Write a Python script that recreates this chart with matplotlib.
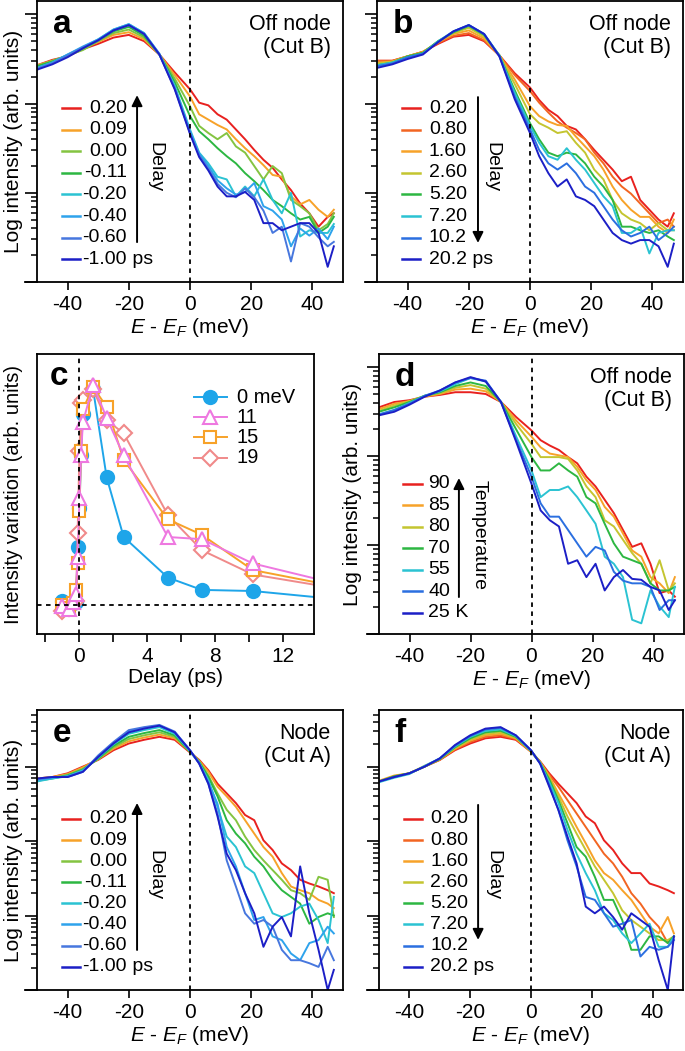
import matplotlib
matplotlib.use('Agg')
import matplotlib.pyplot as plt
import numpy as np
from matplotlib.ticker import NullFormatter, FixedLocator

plt.rcParams['font.family'] = ['Liberation Sans', 'DejaVu Sans']
plt.rcParams['mathtext.fontset'] = 'custom'
plt.rcParams['mathtext.rm'] = 'Liberation Sans'
plt.rcParams['mathtext.it'] = 'Liberation Sans:italic'
plt.rcParams['axes.linewidth'] = 1.3
plt.rcParams['axes.unicode_minus'] = False

# energy grid (meV) shared by the spectra; values are log10 intensity (arb.)
energy = [-50, -45, -40, -35, -30, -25, -20, -15, -10, -5, 0,
          3, 6, 9, 12, 15, 18, 21, 24, 27, 30, 33, 36, 39, 42, 45, 47]

# panel a: off node, delay < ~0.2 ps (rows = energy, cols = curves)
a_labels = ['0.20', '0.09', '0.00', '-0.11', '-0.20', '-0.40', '-0.60', '-1.00']
a_rows = [
    [2.43, 2.43, 2.42, 2.42, 2.40, 2.40, 2.39, 2.38],
    [2.49, 2.48, 2.48, 2.47, 2.46, 2.46, 2.45, 2.44],
    [2.53, 2.53, 2.54, 2.54, 2.55, 2.55, 2.54, 2.52],
    [2.61, 2.62, 2.60, 2.62, 2.63, 2.64, 2.63, 2.62],
    [2.67, 2.69, 2.70, 2.71, 2.72, 2.72, 2.71, 2.71],
    [2.74, 2.77, 2.79, 2.81, 2.83, 2.83, 2.82, 2.82],
    [2.77, 2.80, 2.83, 2.86, 2.89, 2.89, 2.88, 2.88],
    [2.70, 2.72, 2.74, 2.76, 2.79, 2.79, 2.78, 2.78],
    [2.55, 2.55, 2.55, 2.55, 2.55, 2.56, 2.55, 2.55],
    [2.35, 2.32, 2.28, 2.24, 2.20, 2.18, 2.17, 2.16],
    [2.16, 2.08, 1.97, 1.86, 1.71, 1.69, 1.67, 1.66],
    [2.01, 1.88, 1.75, 1.69, 1.45, 1.44, 1.42, 1.40],
    [1.98, 1.82, 1.67, 1.60, 1.33, 1.30, 1.27, 1.25],
    [1.88, 1.76, 1.60, 1.50, 1.18, 1.14, 1.10, 1.07],
    [1.82, 1.71, 1.67, 1.41, 1.15, 1.05, 1.00, 0.96],
    [1.71, 1.60, 1.52, 1.33, 0.96, 0.98, 0.95, 0.96],
    [1.60, 1.50, 1.45, 1.22, 1.07, 1.01, 1.05, 1.01],
    [1.48, 1.41, 1.30, 1.13, 0.96, 1.11, 0.95, 0.92],
    [1.37, 1.31, 1.15, 1.03, 1.15, 0.85, 0.80, 0.66],
    [1.28, 1.20, 1.30, 0.92, 0.92, 0.80, 0.55, 0.66],
    [1.15, 1.18, 1.22, 0.85, 0.77, 0.70, 0.62, 0.58],
    [1.03, 0.96, 0.92, 0.77, 1.00, 0.40, 0.23, 0.62],
    [0.88, 0.87, 0.85, 0.70, 0.51, 0.60, 0.66, 0.66],
    [0.77, 0.92, 0.77, 0.73, 0.58, 0.52, 0.62, 0.66],
    [0.62, 0.81, 0.58, 0.55, 0.55, 0.60, 0.50, 0.55],
    [0.73, 0.73, 0.65, 0.62, 0.55, 0.48, 0.40, 0.17],
    [0.77, 0.81, 0.77, 0.73, 0.65, 0.62, 0.45, 0.40],
]

# panel b: off node, delay >= 0.2 ps
b_labels = ['0.20', '0.80', '1.60', '2.60', '5.20', '7.20', '10.2', '20.2']
b_rows = [
    [2.48, 2.48, 2.46, 2.45, 2.43, 2.43, 2.42, 2.40],
    [2.48, 2.48, 2.47, 2.47, 2.46, 2.46, 2.45, 2.44],
    [2.53, 2.53, 2.53, 2.53, 2.53, 2.52, 2.52, 2.50],
    [2.58, 2.58, 2.58, 2.57, 2.57, 2.56, 2.56, 2.55],
    [2.67, 2.68, 2.69, 2.70, 2.70, 2.70, 2.69, 2.69],
    [2.75, 2.76, 2.78, 2.79, 2.80, 2.81, 2.81, 2.81],
    [2.77, 2.79, 2.82, 2.85, 2.87, 2.88, 2.88, 2.88],
    [2.70, 2.71, 2.73, 2.75, 2.77, 2.78, 2.78, 2.78],
    [2.54, 2.54, 2.54, 2.54, 2.54, 2.54, 2.53, 2.53],
    [2.34, 2.32, 2.27, 2.22, 2.15, 2.12, 2.08, 2.05],
    [2.18, 2.14, 1.97, 1.88, 1.78, 1.75, 1.71, 1.67],
    [2.04, 2.01, 1.86, 1.78, 1.60, 1.56, 1.48, 1.41],
    [1.93, 1.90, 1.80, 1.73, 1.45, 1.41, 1.33, 1.22],
    [1.86, 1.80, 1.76, 1.67, 1.41, 1.37, 1.26, 1.07],
    [1.75, 1.73, 1.75, 1.69, 1.45, 1.50, 1.33, 1.15],
    [1.71, 1.67, 1.63, 1.56, 1.43, 1.37, 1.22, 0.96],
    [1.60, 1.60, 1.52, 1.45, 1.33, 1.26, 1.07, 0.92],
    [1.48, 1.45, 1.41, 1.26, 1.18, 1.11, 1.00, 0.85],
    [1.37, 1.33, 1.26, 1.15, 1.07, 0.96, 0.85, 0.70],
    [1.26, 1.18, 1.07, 0.92, 0.92, 0.85, 0.70, 0.55],
    [1.13, 1.07, 0.92, 0.77, 0.62, 0.55, 0.58, 0.47],
    [1.18, 0.99, 0.81, 0.70, 0.62, 0.55, 0.51, 0.43],
    [0.92, 0.88, 0.73, 0.66, 0.58, 0.62, 0.55, 0.47],
    [0.81, 0.77, 0.73, 0.58, 0.55, 0.32, 0.62, 0.47],
    [0.70, 0.66, 0.62, 0.66, 0.58, 0.55, 0.47, 0.40],
    [0.62, 0.70, 0.55, 0.58, 0.51, 0.58, 0.55, 0.17],
    [0.77, 0.62, 0.70, 0.58, 0.47, 0.58, 0.62, 0.43],
]

# panel d: off node, temperature dependence
d_labels = ['90', '85', '80', '70', '55', '40', '25']
d_rows = [
    [2.55, 2.53, 2.51, 2.50, 2.47, 2.47, 2.46],
    [2.61, 2.59, 2.57, 2.55, 2.52, 2.52, 2.50],
    [2.63, 2.62, 2.62, 2.61, 2.60, 2.59, 2.58],
    [2.67, 2.67, 2.68, 2.68, 2.68, 2.68, 2.67],
    [2.69, 2.70, 2.71, 2.72, 2.73, 2.74, 2.74],
    [2.72, 2.75, 2.77, 2.79, 2.81, 2.83, 2.83],
    [2.72, 2.76, 2.80, 2.83, 2.88, 2.88, 2.89],
    [2.70, 2.73, 2.76, 2.79, 2.84, 2.85, 2.84],
    [2.61, 2.61, 2.61, 2.61, 2.61, 2.61, 2.61],
    [2.44, 2.40, 2.36, 2.30, 2.22, 2.18, 2.16],
    [2.29, 2.22, 2.14, 1.99, 1.84, 1.77, 1.69],
    [2.18, 2.10, 1.99, 1.84, 1.54, 1.47, 1.39],
    [2.12, 2.03, 1.99, 1.84, 1.62, 1.32, 1.28],
    [2.07, 2.01, 1.99, 1.92, 1.62, 1.32, 1.21],
    [1.99, 1.99, 1.97, 1.84, 1.66, 1.17, 0.79],
    [1.92, 1.88, 1.84, 1.77, 1.54, 1.02, 0.83],
    [1.77, 1.73, 1.66, 1.54, 1.39, 0.87, 0.64],
    [1.66, 1.62, 1.54, 1.47, 1.24, 0.98, 0.79],
    [1.51, 1.43, 1.28, 1.24, 0.87, 0.94, 0.49],
    [1.36, 1.32, 1.21, 1.02, 0.79, 0.70, 0.64],
    [1.17, 1.13, 1.06, 0.87, 0.64, 0.60, 0.72],
    [0.98, 0.94, 0.91, 0.83, 0.16, 0.57, 0.62],
    [1.02, 0.87, 0.79, 0.79, 0.12, 0.57, 0.61],
    [0.79, 0.64, 0.57, 0.57, 0.49, 0.53, 0.53],
    [0.46, 0.57, 0.83, 0.49, 0.31, 0.27, 0.49],
    [0.49, 0.46, 0.49, 0.49, 0.19, 0.38, 0.27],
    [0.42, 0.64, 0.57, 0.53, 0.53, 0.38, 0.38],
]

# panel e: node, delay < ~0.2 ps
e_labels = a_labels
e_rows = [
    [2.84, 2.84, 2.82, 2.81, 2.80, 2.82, 2.83, 2.84],
    [2.86, 2.86, 2.85, 2.84, 2.84, 2.85, 2.86, 2.86],
    [2.91, 2.90, 2.89, 2.88, 2.87, 2.87, 2.86, 2.86],
    [3.00, 2.99, 2.97, 2.96, 2.95, 2.94, 2.93, 2.93],
    [3.09, 3.10, 3.10, 3.11, 3.12, 3.14, 3.15, 3.13],
    [3.22, 3.24, 3.26, 3.28, 3.30, 3.32, 3.33, 3.31],
    [3.31, 3.34, 3.37, 3.40, 3.44, 3.47, 3.49, 3.46],
    [3.36, 3.39, 3.42, 3.45, 3.49, 3.52, 3.53, 3.51],
    [3.40, 3.43, 3.46, 3.49, 3.53, 3.55, 3.56, 3.55],
    [3.36, 3.38, 3.40, 3.42, 3.44, 3.46, 3.47, 3.46],
    [3.19, 3.20, 3.20, 3.20, 3.21, 3.21, 3.22, 3.22],
    [3.09, 3.08, 3.07, 3.06, 3.05, 3.05, 3.04, 3.04],
    [2.95, 2.93, 2.88, 2.86, 2.82, 2.79, 2.77, 2.77],
    [2.77, 2.73, 2.64, 2.60, 2.46, 2.50, 2.37, 2.33],
    [2.64, 2.60, 2.42, 2.28, 2.06, 1.92, 1.74, 1.83],
    [2.51, 2.46, 2.28, 2.10, 1.92, 1.66, 1.39, 1.61],
    [2.35, 2.28, 2.06, 1.97, 1.66, 1.30, 1.03, 1.30],
    [2.28, 2.10, 1.88, 1.79, 1.57, 0.94, 0.89, 1.03],
    [2.01, 1.92, 1.74, 1.66, 1.30, 0.98, 0.94, 0.58],
    [1.88, 1.79, 1.61, 1.48, 1.03, 0.72, 0.85, 0.85],
    [1.70, 1.57, 1.48, 1.34, 0.98, 0.67, 0.54, 0.98],
    [1.61, 1.39, 1.34, 1.25, 1.03, 0.49, 0.40, 0.72],
    [1.48, 1.34, 1.30, 1.16, 1.12, 0.40, 0.40, 1.66],
    [1.43, 1.30, 1.21, 0.89, 1.16, 0.63, 0.36, 1.03],
    [1.39, 1.21, 1.52, 0.98, 0.94, 0.67, 0.31, 0.54],
    [1.34, 1.16, 1.48, 1.03, 0.63, 0.85, 0.58, 0.00],
    [1.30, 1.10, 0.98, 1.00, 1.25, 0.76, 0.40, 0.27],
]

# panel f: node, delay >= 0.2 ps
f_labels = b_labels
f_rows = [
    [2.80, 2.80, 2.81, 2.80, 2.80, 2.79, 2.80, 2.80],
    [2.86, 2.87, 2.88, 2.86, 2.87, 2.85, 2.86, 2.86],
    [2.91, 2.91, 2.91, 2.91, 2.91, 2.90, 2.91, 2.91],
    [3.00, 3.00, 3.01, 3.00, 3.00, 3.01, 3.00, 3.00],
    [3.09, 3.09, 3.10, 3.10, 3.10, 3.11, 3.11, 3.11],
    [3.22, 3.23, 3.24, 3.25, 3.26, 3.27, 3.28, 3.29],
    [3.31, 3.33, 3.35, 3.36, 3.38, 3.40, 3.41, 3.42],
    [3.38, 3.40, 3.42, 3.44, 3.46, 3.48, 3.50, 3.51],
    [3.40, 3.42, 3.44, 3.46, 3.48, 3.50, 3.52, 3.53],
    [3.36, 3.37, 3.38, 3.39, 3.40, 3.41, 3.42, 3.42],
    [3.20, 3.20, 3.20, 3.21, 3.21, 3.21, 3.22, 3.22],
    [3.07, 3.06, 3.06, 3.06, 3.05, 3.05, 3.04, 3.04],
    [2.91, 2.89, 2.87, 2.85, 2.83, 2.79, 2.75, 2.73],
    [2.77, 2.73, 2.64, 2.60, 2.55, 2.51, 2.42, 2.42],
    [2.64, 2.55, 2.42, 2.33, 2.24, 2.15, 2.01, 2.06],
    [2.51, 2.37, 2.19, 2.10, 1.92, 1.83, 1.66, 1.70],
    [2.33, 2.19, 1.97, 1.88, 1.79, 1.57, 1.25, 1.12],
    [2.24, 2.01, 1.74, 1.66, 1.52, 1.34, 1.21, 1.03],
    [2.01, 1.83, 1.57, 1.48, 1.21, 1.03, 1.03, 1.12],
    [1.88, 1.70, 1.48, 1.30, 1.21, 0.94, 0.85, 0.98],
    [1.70, 1.52, 1.34, 1.07, 0.94, 0.76, 0.89, 0.81],
    [1.57, 1.30, 1.21, 0.94, 0.54, 0.63, 0.94, 1.03],
    [1.57, 1.16, 1.03, 0.85, 0.54, 0.76, 0.45, 0.94],
    [1.43, 0.98, 0.85, 0.76, 0.72, 0.89, 0.58, 0.85],
    [1.39, 0.85, 0.76, 0.67, 0.72, 0.58, 0.54, 0.40],
    [1.34, 0.63, 0.98, 0.67, 0.63, 0.58, 0.58, 0.00],
    [1.30, 0.72, 0.76, 0.72, 0.72, 0.72, 0.67, 0.72],
]

# panel c: intensity variation vs delay
delay = [-1.00, -0.60, -0.40, -0.20, -0.11, 0.00, 0.09, 0.20,
         0.80, 1.60, 2.60, 5.20, 7.20, 10.2, 20.2]
var_0 = [0.02, 0.0, 0.01, 0.015, 0.265, 0.44, 0.68, 0.87,
         0.98, 0.58, 0.31, 0.126, 0.07, 0.065, -0.01]
var_11 = [-0.005, -0.015, 0.015, 0.053, 0.22, 0.485, 0.68, 0.83,
          1.0, 0.85, 0.68, 0.31, 0.30, 0.19, 0.003]
var_15 = [0.0, -0.01, 0.01, 0.07, 0.19, 0.43, 0.70, 0.89,
          0.99, 0.90, 0.66, 0.39, 0.32, 0.16, 0.01]
var_19 = [-0.027, -0.01, 0.008, 0.02, 0.33, 0.70, 0.92, 0.93,
          0.98, 0.84, 0.78, 0.41, 0.25, 0.14, 0.012]
c_labels = ['0 meV', '11', '15', '19']

cols_a = ['#E8211F', '#F7A229', '#84C441', '#2DB742', '#2BC3D2', '#2EA3EC', '#4777DE', '#1C1FC6']
cols_b = ['#E8211F', '#F26522', '#F7A229', '#C4C530', '#2DB742', '#2BC3D2', '#2B6FE0', '#1C1FC6']
cols_d = ['#E8211F', '#F7A229', '#C4C530', '#2DB742', '#2BC3D2', '#2B6FE0', '#1C1FC6']

W, H = 685, 1051
fig = plt.figure(figsize=(W / 100, H / 100), dpi=100)


def box(x0, y0, x1, y1):
    return [x0 / W, 1 - y1 / H, (x1 - x0) / W, (y1 - y0) / H]


def spectra(ax, rows, labels, unit, colors, ytop, letter, place, up, word,
            leg_y0, leg_dy, leg_x0, leg_x1, leg_tx, arr_x, arr_y0, arr_y1,
            word_x, word_y, ylab_x=None):
    data = np.array(rows).T
    for vals, c in zip(data, colors):
        ax.plot(energy, 10 ** vals, color=c, lw=1.4)
    ax.set_yscale('log')
    ax.set_xlim(-50, 50)
    ax.set_ylim(1, 10 ** ytop)
    ax.axvline(0, color='k', lw=1.3, ls=(0, (2.5, 2.5)))
    ndec = int(np.ceil(ytop))
    ax.yaxis.set_major_locator(FixedLocator([10.0 ** k for k in range(ndec + 1)]))
    ax.yaxis.set_minor_locator(FixedLocator([m * 10.0 ** k for k in range(ndec + 1)
                                             for m in range(2, 10)]))
    ax.yaxis.set_major_formatter(NullFormatter())
    ax.yaxis.set_minor_formatter(NullFormatter())
    ax.set_ylim(1, 10 ** ytop)
    ax.set_xticks([-40, -20, 0, 20, 40])
    ax.tick_params(axis='x', direction='out', length=6, width=1.2, labelsize=15, pad=3)
    ax.yaxis.set_tick_params(which='major', direction='out', length=8.5, width=1.2, left=True)
    ax.yaxis.set_tick_params(which='minor', direction='out', length=4, width=1.1, left=True)
    ax.plot([-0.04, 0], [0, 0], transform=ax.transAxes, clip_on=False, color='k', lw=1.3)
    ax.set_xlabel(r'$E$ - $E_F$ (meV)', fontsize=15, labelpad=2)
    if ylab_x is not None:
        ax.set_ylabel('Log intensity (arb. units)', fontsize=15)
        ax.yaxis.set_label_coords(ylab_x, 0.5)
    ax.text(0.052, 1 - 32 / 281, letter, transform=ax.transAxes, fontsize=24,
            fontweight='bold', ha='left', va='baseline')
    ax.text(0.96, 0.955, place, transform=ax.transAxes, fontsize=15.5,
            ha='right', va='top', linespacing=1.15)
    # hand-made legend
    for i, (lab, c) in enumerate(zip(labels, colors)):
        yy = leg_y0 - i * leg_dy
        ax.plot([leg_x0, leg_x1], [yy, yy], transform=ax.transAxes, color=c, lw=1.8)
        ax.text(leg_tx, yy, lab, transform=ax.transAxes, fontsize=14,
                ha='right', va='center')
        if i == len(labels) - 1:
            ax.text(leg_tx, yy, ' ' + unit, transform=ax.transAxes, fontsize=14,
                    ha='left', va='center')
    if up:
        start, end = arr_y0, arr_y1
    else:
        start, end = arr_y1, arr_y0
    ax.annotate('', xy=(arr_x, end), xytext=(arr_x, start), xycoords='axes fraction',
                arrowprops=dict(arrowstyle='-|>', color='k', lw=1.4, mutation_scale=16,
                                shrinkA=0, shrinkB=0))
    ax.text(word_x, word_y, word, transform=ax.transAxes, fontsize=14,
            rotation=270, ha='center', va='center')


ax_a = fig.add_axes(box(37, 1, 343, 282))
spectra(ax_a, a_rows, a_labels, 'ps', cols_a, 3.15, 'a', 'Off node\n(Cut B)', True, 'Delay',
        0.619, 0.0769, 0.082, 0.141, 0.294, 0.327, 0.142, 0.665, 0.386, 0.409, ylab_x=-0.046)

ax_b = fig.add_axes(box(377, 1, 683, 282))
spectra(ax_b, b_rows, b_labels, 'ps', cols_b, 3.15, 'b', 'Off node\n(Cut B)', False, 'Delay',
        0.619, 0.0769, 0.082, 0.141, 0.294, 0.33, 0.139, 0.658, 0.376, 0.409)

ax_d = fig.add_axes(box(379, 354, 684, 634))
spectra(ax_d, d_rows, d_labels, 'K', cols_d, 3.15, 'd', 'Off node\n(Cut B)', True, 'Temperature',
        0.536, 0.0768, 0.079, 0.141, 0.233, 0.262, 0.132, 0.557, 0.328, 0.354, ylab_x=-0.056)

ax_e = fig.add_axes(box(37, 710, 343, 990))
spectra(ax_e, e_rows, e_labels, 'ps', cols_a, 3.76, 'e', 'Node\n(Cut A)', True, 'Delay',
        0.611, 0.0754, 0.082, 0.141, 0.294, 0.327, 0.143, 0.668, 0.386, 0.41, ylab_x=-0.046)

ax_f = fig.add_axes(box(379, 710, 683, 990))
spectra(ax_f, f_rows, f_labels, 'ps', cols_b, 3.76, 'f', 'Node\n(Cut A)', False, 'Delay',
        0.611, 0.0754, 0.082, 0.141, 0.294, 0.326, 0.179, 0.661, 0.375, 0.41)

# panel c
ax_c = fig.add_axes(box(37, 354, 314, 634))
c_series = [var_0, var_11, var_15, var_19]
c_colors = ['#1EA5E9', '#EE78E0', '#F7A229', '#F08A8A']
c_markers = ['o', '^', 's', 'D']
c_fill = ['#1EA5E9', 'white', 'white', 'white']
c_ms = [9.5, 10.5, 8.5, 8]
for k in [0, 3, 2, 1]:
    ax_c.plot(delay, c_series[k], color=c_colors[k], lw=1.4, marker=c_markers[k],
              ms=c_ms[k], mfc=c_fill[k], mec=c_colors[k], mew=1.5)
ax_c.set_xlim(-2.5, 13.8)
ax_c.set_ylim(-0.13, 1.14)
ax_c.axvline(0, color='k', lw=1.3, ls=(0, (2.5, 2.5)))
ax_c.axhline(0, color='k', lw=1.3, ls=(0, (2.5, 2.5)))
ax_c.xaxis.set_major_locator(FixedLocator([-2, 0, 2, 4, 6, 8, 10, 12]))
ax_c.set_xticklabels(['', '0', '', '4', '', '8', '', '12'])
ax_c.tick_params(axis='x', direction='out', length=6, width=1.2, labelsize=15, pad=3)
ax_c.tick_params(axis='y', left=False, labelleft=False)
ax_c.set_xlabel('Delay (ps)', fontsize=15, labelpad=2)
ax_c.set_ylabel('Intensity variation (arb. units)', fontsize=14.5)
ax_c.yaxis.set_label_coords(-0.052, 0.5)
ax_c.text(0.047, 1 - 31 / 280, 'c', transform=ax_c.transAxes, fontsize=24,
          fontweight='bold', ha='left', va='baseline')
for i in range(4):
    yy = 0.846 - i * 0.072
    ax_c.plot([0.567, 0.686], [yy, yy], transform=ax_c.transAxes, color=c_colors[i], lw=1.4)
    ax_c.plot([0.626], [yy], transform=ax_c.transAxes, color=c_colors[i], marker=c_markers[i],
              ms=c_ms[i], mfc=c_fill[i], mec=c_colors[i], mew=1.5)
    ax_c.text(0.722, yy, c_labels[i], transform=ax_c.transAxes, fontsize=14.5,
              ha='left', va='center')

plt.savefig('out.png', dpi=100)
